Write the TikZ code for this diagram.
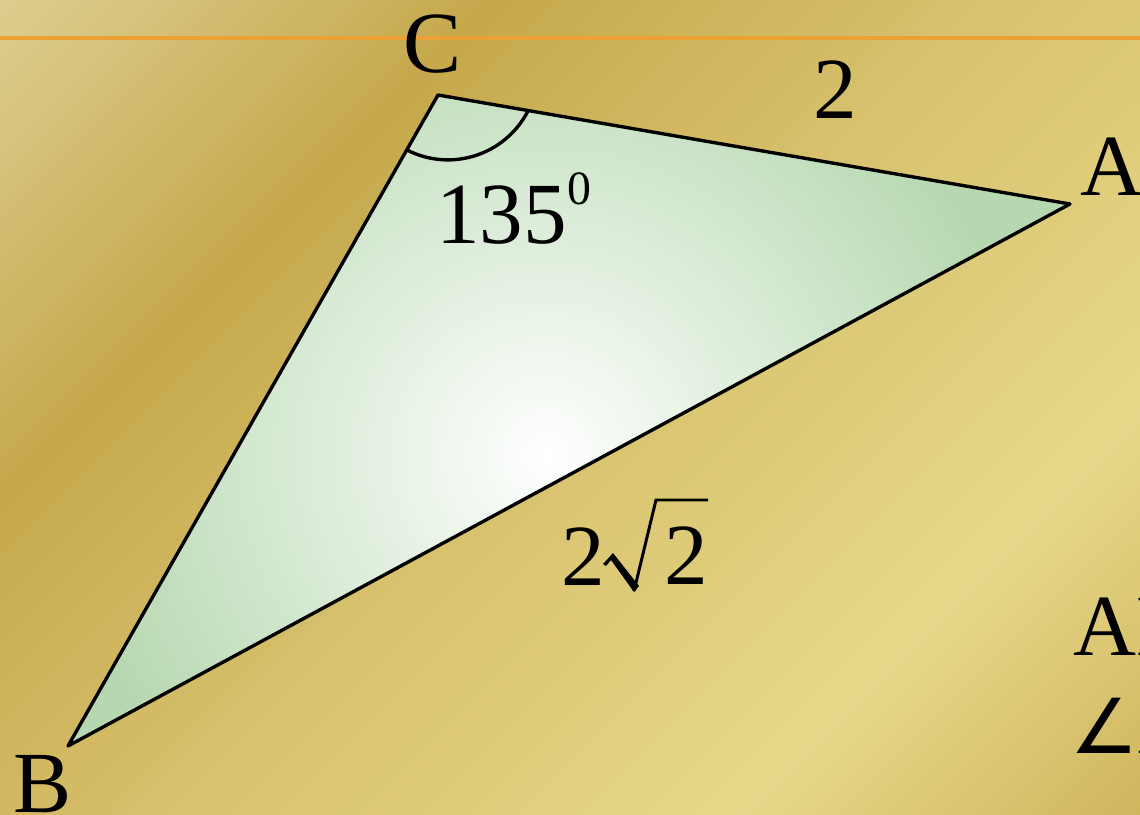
\documentclass[tikz,border=0pt]{standalone}
\usepackage{fontspec}
\setmainfont{Liberation Serif}
\newfontfamily\symfont{DejaVu Sans}
\definecolor{bgA}{HTML}{DDCE90}
\definecolor{bgB}{HTML}{C6A84C}
\definecolor{bgC}{HTML}{D8C26E}
\definecolor{bgD}{HTML}{E6D88A}
\definecolor{bgE}{HTML}{D0B55C}
\definecolor{rule}{HTML}{EBA234}
\definecolor{triGreen}{HTML}{B6D8B0}
\begin{document}
\begin{tikzpicture}[x=0.025cm,y=-0.025cm,
  edge/.style={line width=2.4pt, line join=round, line cap=round},
  lbl/.style={font=\fontsize{62}{70}\selectfont, inner sep=0pt, anchor=base west, text=black},
]
\useasboundingbox (0,0) rectangle (1140,815);
\clip (0,0) rectangle (1140,815);
% background gradient (diagonal strips)
\foreach \a/\b/\ca/\cb in {0/500/bgA/bgB, 500/1000/bgB/bgC, 1000/1550/bgC/bgD, 1550/1960/bgD/bgE}{
  \foreach \i in {0,...,24}{
    \pgfmathsetmacro{\sA}{\a+(\b-\a)*\i/25}
    \pgfmathsetmacro{\sB}{\sA+(\b-\a)/25+1.5}
    \pgfmathtruncatemacro{\p}{100-100*(\i+0.5)/25}
    \fill[\ca!\p!\cb] (\sA+20,-20) -- (\sB+20,-20) -- (\sB-840,840) -- (\sA-840,840) -- cycle;
  }
}
% orange rule
\coordinate (L1) at (0,38);
\coordinate (L2) at (1140,38);
\draw[rule, line width=2.4pt] (L1) -- (L2);
% triangle
\coordinate (C) at (438,95);
\coordinate (A) at (1070,204);
\coordinate (B) at (68,746);
\fill[triGreen] (C) -- (A) -- (B) -- cycle;
\begin{scope}
  \clip (C) -- (A) -- (B) -- cycle;
  \coordinate (glow) at (545,455);
  \shade[inner color=white, outer color=triGreen] (glow) circle[radius=12cm];
\end{scope}
\draw[edge] (C) -- (A) -- (B) -- cycle;
% angle mark
\coordinate (arcS) at (407,150);
\draw[edge] (arcS) arc[start angle=242.9, end angle=332.9, radius=2.247cm];
% labels
\node[lbl] (lC) at (403,72) {C};
\node[lbl] (lCA) at (813,118) {2};
\node[lbl] (lA) at (1080,195) {A};
\node[lbl] (lB) at (13,812) {B};
\node[lbl] (lang) at (436,243) {135\raisebox{0.95cm}{\fontsize{34}{36}\selectfont 0}};
% 2 sqrt 2
\node[lbl] (lAB1) at (561,585) {2};
\node[lbl] (lAB2) at (664,584) {2};
\fill (603,564) -- (613,553) -- (639,586) -- (634,592) -- (611,560) -- (606,566) -- cycle;
\draw[line width=2.1pt, line join=miter] (634,591) -- (656,500) -- (708,500);
\node[lbl] (tAB) at (1073,655) {AB};
\node[lbl] (tAng) at (1070,753) {{\symfont\fontsize{54}{60}\selectfont ∠}A};
\end{tikzpicture}
\end{document}
